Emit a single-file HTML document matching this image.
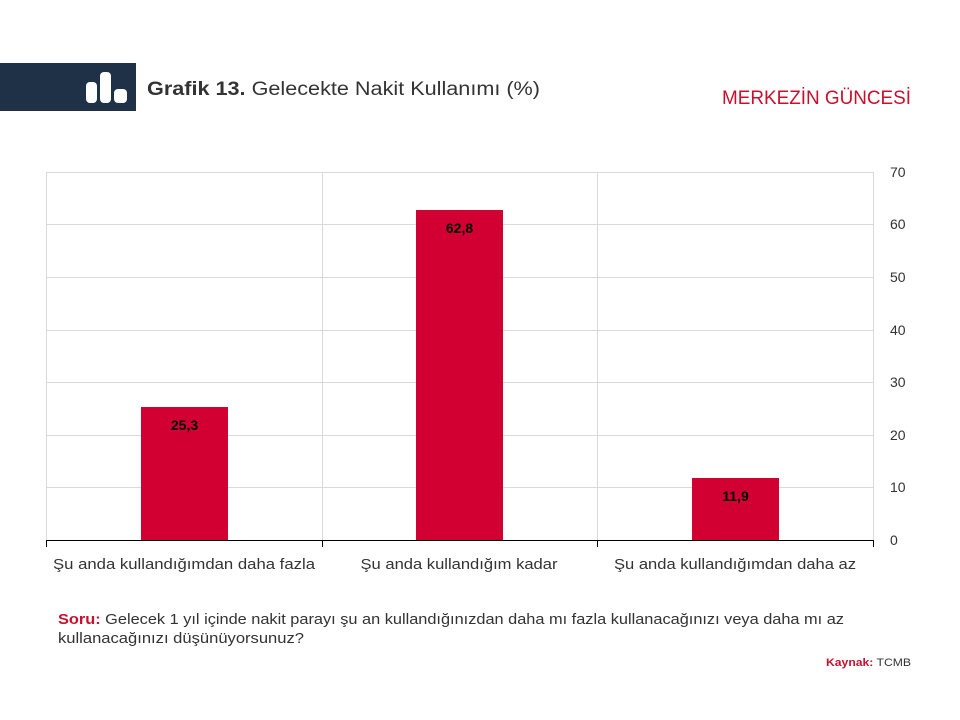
<!DOCTYPE html>
<html><head><meta charset="utf-8"><style>
body{margin:0;width:960px;height:720px;background:#fff;overflow:hidden}
svg{display:block;font-family:"Liberation Sans",sans-serif}
</style></head><body>
<svg width="960" height="720" viewBox="0 0 960 720">
<rect x="0" y="63" width="136" height="48" fill="#1f3146"/>
<rect x="86" y="82" width="11" height="21" rx="4" fill="#fff"/>
<rect x="100" y="72" width="11" height="31" rx="4" fill="#fff"/>
<rect x="114" y="89" width="13" height="14" rx="4" fill="#fff"/>
<text x="147" y="95" font-size="19" fill="#333" textLength="393" lengthAdjust="spacingAndGlyphs"><tspan font-weight="bold">Grafik 13.</tspan> Gelecekte Nakit Kullanımı (%)</text>
<text x="722" y="104" font-size="19" fill="#c8102e" textLength="189" lengthAdjust="spacingAndGlyphs">MERKEZİN GÜNCESİ</text>
<g stroke="#d9d9d9" stroke-width="1">
<line x1="46" y1="172.5" x2="873" y2="172.5"/>
<line x1="46" y1="224.5" x2="873" y2="224.5"/>
<line x1="46" y1="277.5" x2="873" y2="277.5"/>
<line x1="46" y1="330.5" x2="873" y2="330.5"/>
<line x1="46" y1="382.5" x2="873" y2="382.5"/>
<line x1="46" y1="435.5" x2="873" y2="435.5"/>
<line x1="46" y1="487.5" x2="873" y2="487.5"/>
<line x1="46.5" y1="172" x2="46.5" y2="540"/>
<line x1="322.5" y1="172" x2="322.5" y2="540"/>
<line x1="597.5" y1="172" x2="597.5" y2="540"/>
<line x1="873.5" y1="172" x2="873.5" y2="540"/>
</g>
<rect x="141" y="407" width="87" height="133" fill="#d20032"/>
<rect x="416" y="210" width="87" height="330" fill="#d20032"/>
<rect x="692" y="478" width="87" height="62" fill="#d20032"/>
<g stroke="#000" stroke-width="1">
<line x1="46" y1="540.5" x2="873" y2="540.5"/>
<line x1="46.5" y1="540" x2="46.5" y2="547"/>
<line x1="322.5" y1="540" x2="322.5" y2="547"/>
<line x1="597.5" y1="540" x2="597.5" y2="547"/>
<line x1="873.5" y1="540" x2="873.5" y2="547"/>
</g>
<g font-size="14" font-weight="bold" fill="#000" text-anchor="middle">
<text x="184.5" y="430">25,3</text>
<text x="459.5" y="233">62,8</text>
<text x="735.5" y="501">11,9</text>
</g>
<g font-size="14" fill="#333">
<text x="890" y="177">70</text><text x="890" y="229">60</text><text x="890" y="282">50</text>
<text x="890" y="335">40</text><text x="890" y="387">30</text><text x="890" y="440">20</text>
<text x="890" y="492">10</text><text x="890" y="545">0</text>
</g>
<g font-size="15" fill="#333" text-anchor="middle">
<text x="184" y="569" textLength="262" lengthAdjust="spacingAndGlyphs">Şu anda kullandığımdan daha fazla</text>
<text x="459" y="569" textLength="197" lengthAdjust="spacingAndGlyphs">Şu anda kullandığım kadar</text>
<text x="735" y="569" textLength="242" lengthAdjust="spacingAndGlyphs">Şu anda kullandığımdan daha az</text>
</g>
<text x="58" y="624" font-size="15" fill="#333" textLength="786" lengthAdjust="spacingAndGlyphs"><tspan font-weight="bold" fill="#c8102e">Soru:</tspan> Gelecek 1 yıl içinde nakit parayı şu an kullandığınızdan daha mı fazla kullanacağınızı veya daha mı az</text>
<text x="58" y="643" font-size="15" fill="#333" textLength="246" lengthAdjust="spacingAndGlyphs">kullanacağınızı düşünüyorsunuz?</text>
<text x="826" y="666" font-size="11" fill="#333" textLength="85" lengthAdjust="spacingAndGlyphs"><tspan font-weight="bold" fill="#c8102e">Kaynak:</tspan> TCMB</text>
</svg>
</body></html>
